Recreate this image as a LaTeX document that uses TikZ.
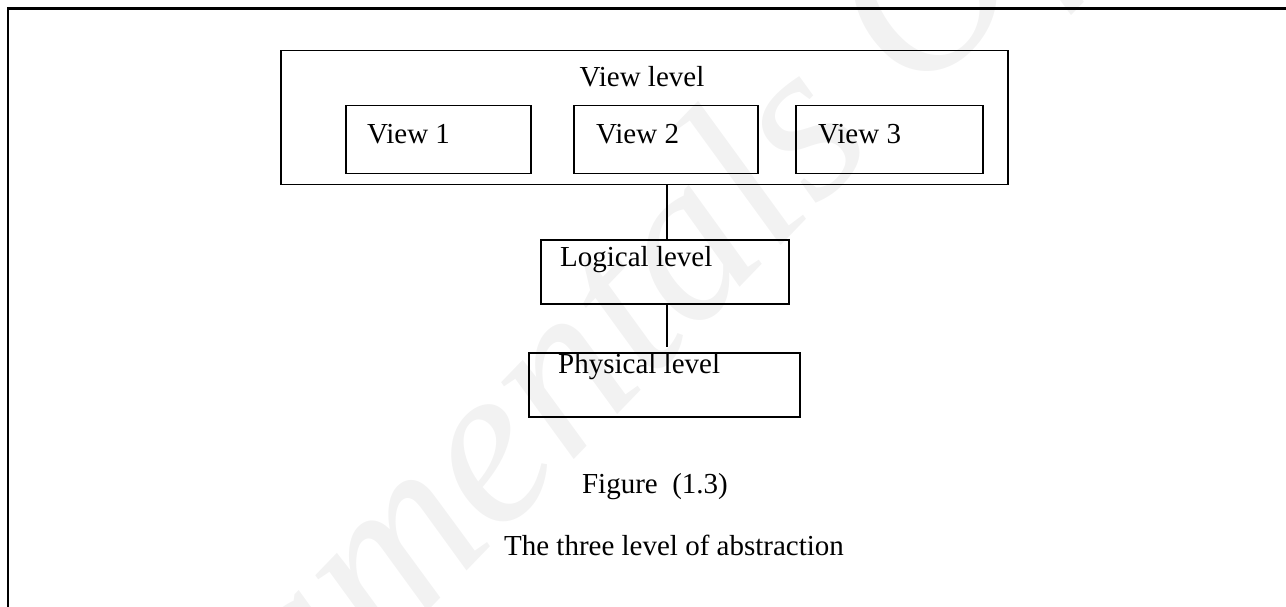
\documentclass[tikz,border=0pt]{standalone}
\usepackage{fontspec}
\setmainfont{Liberation Serif}
\begin{document}
\begin{tikzpicture}[x=1pt,y=-1pt,
  box/.style={draw=black, line width=1.5pt, inner sep=0pt, anchor=north west},
  lbl/.style={inner sep=0pt, font=\fontsize{29}{35}\selectfont},
  link/.style={draw=black, line width=1.5pt},
  wmark/.style={text=black!5, inner sep=0pt, rotate=46, font=\fontsize{230}{230}\selectfont\itshape}]
\useasboundingbox (0,0) rectangle (1286,607);
\clip (0,0) rectangle (1286,607);
% watermark
\node[wmark] (wm) at (650,300) {amentals Of};
% outer frame
\node[box, line width=2.2pt, minimum width=1300pt, minimum height=620pt] (frame) at (6.5,7.5) {};
% view level
\node[box, minimum width=727pt, minimum height=134pt] (view) at (280,50) {};
\node[lbl, anchor=base] (viewt) at (642,87) {View level};
\node[box, minimum width=185pt, minimum height=68pt] (v1) at (345,105) {};
\node[box, minimum width=184pt, minimum height=68pt] (v2) at (573,105) {};
\node[box, minimum width=187pt, minimum height=68pt] (v3) at (795,105) {};
\node[lbl, anchor=base west] (v1t) at (367,144) {View 1};
\node[lbl, anchor=base west] (v2t) at (596,144) {View 2};
\node[lbl, anchor=base west] (v3t) at (818,144) {View 3};
% logical
\node[box, minimum width=248pt, minimum height=64pt] (log) at (540,239) {};
\node[lbl, anchor=base west] (logt) at (560,266) {Logical level};
% physical
\node[box, minimum width=271pt, minimum height=64pt] (phy) at (528,352) {};
\node[lbl, anchor=base west] (phyt) at (558,373) {Physical level};
% connectors
\coordinate (c4) at (667,347);
\draw[link] (view.south -| c4) -- (log.north -| c4);
\draw[link] (log.south -| c4) -- (c4);
% captions
\node[lbl, anchor=base] (fig) at (655,493) {Figure\ \ (1.3)};
\node[lbl, anchor=base] (cap) at (674,555) {The three level of abstraction};
\end{tikzpicture}
\end{document}
